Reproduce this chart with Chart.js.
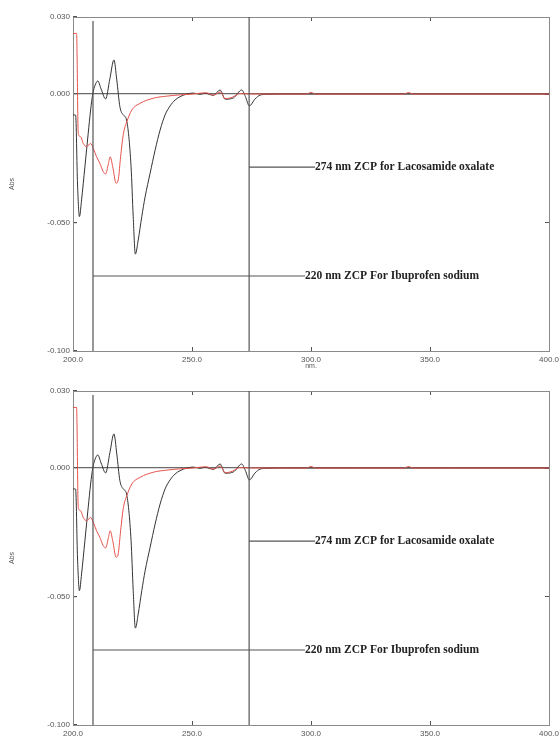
<!DOCTYPE html>
<html>
<head>
<meta charset="utf-8">
<script src="https://cdn.jsdelivr.net/npm/chart.js@4.4.0/dist/chart.umd.min.js"></script>
<style>
  html, body { margin: 0; padding: 0; background: #fff; overflow: hidden; }
  canvas { position: absolute; left: 0; }
  #chart-top { top: 0; }
  #chart-bottom { top: 370px; }
</style>
</head>
<body>
<canvas id="chart-top" width="560" height="370"></canvas>
<canvas id="chart-bottom" width="560" height="370"></canvas>
<script>
// derivative spectra (nm / Abs)
const blackNm  = [200, 201.1, 201.9, 202.7, 203.6, 205, 206.4, 207.4, 208.3, 209.3, 210.4, 211.8, 213.7, 215.5, 217.2, 218.4, 219.7, 221.1, 222.5, 224.4, 225.3, 226.2, 227.4, 228.9, 230.3, 232.4, 234.5, 236.6, 238.7, 240.8, 242.9, 245, 247.8, 250.6, 253.4, 255.5, 259, 261.8, 263.9, 267.4, 270.9, 272.4, 274.1, 276.5, 278.6, 281.4, 290, 320, 360, 400];
const blackAbs = [-0.0081, -0.0082, -0.035, -0.0477, -0.0412, -0.0283, -0.0152, -0.0062, 0, 0.0035, 0.0051, 0.002, -0.0019, 0.006, 0.0133, 0.0055, -0.0049, -0.0081, -0.0101, -0.0283, -0.0477, -0.0623, -0.0568, -0.0477, -0.04, -0.0308, -0.0218, -0.014, -0.0081, -0.0046, -0.0023, -0.001, 0, 0.0004, -0.0001, 0.0003, -0.0005, 0.0016, -0.002, -0.0015, 0.0016, -0.0009, -0.0046, -0.0019, -0.0004, -0.0001, 0, 0, 0, 0];

const redNm  = [200, 201.5, 202.2, 203.2, 204.3, 205.7, 207.4, 208.5, 209.9, 211.3, 212.7, 213.7, 214.9, 215.6, 216.7, 218.1, 219.1, 220, 221.2, 222.6, 224.7, 228.2, 233.8, 239.4, 245, 250, 253, 256, 259, 262, 264, 267, 270, 275, 298, 300, 302, 339, 341, 343, 400];
const redAbs = [0.0236, 0.0236, -0.0153, -0.0166, -0.0192, -0.0205, -0.0192, -0.0211, -0.0244, -0.027, -0.0302, -0.0311, -0.0270, -0.0244, -0.0283, -0.0347, -0.0328, -0.0244, -0.0153, -0.0108, -0.0062, -0.0036, -0.0016, -0.0008, -0.0003, 0, 0.0003, 0.0005, -0.0004, 0.0008, -0.0018, -0.0012, 0.0002, 0, 0, 0.0006, 0, 0, 0.0006, 0, 0];

const xTicks = [200, 250, 300, 350, 400];
const yTicks = [0.03, 0, -0.05, -0.1];

// zero crossing markers
const zcpNm  = [208.4, 274];
const zcpTop = [0.0284, 0.03];
const labelText = ['220 nm ZCP For Ibuprofen sodium', '274 nm ZCP for Lacosamide oxalate'];
const labelAbs  = [-0.0708, -0.0284];
const labelTo   = [297.5, 301.7];

const GRAY = '#8a8a8a';
const MARK = '#555555';

function toPoints(xs, ys) {
    return xs.map((x, i) => ({ x: x, y: ys[i] }));
}

const zcpLabels = {
    id: 'zcpLabels',
    afterDatasetsDraw(chart) {
        const ctx = chart.ctx;
        const xs = chart.scales.x;
        const ys = chart.scales.y;
        ctx.save();
        ctx.font = 'bold 11.5px "Liberation Serif", serif';
        ctx.fillStyle = '#222';
        ctx.textBaseline = 'middle';
        ctx.textAlign = 'left';
        labelText.forEach((t, i) => {
            ctx.fillText(t, xs.getPixelForValue(labelTo[i]), ys.getPixelForValue(labelAbs[i]));
        });
        ctx.restore();
    }
};

function makeChart(id, topPad, xAxisH, showNm) {
    const lineDs = (data) => ({
        data: data, borderColor: MARK, borderWidth: 1.2, pointRadius: 0, tension: 0
    });
    const datasets = [];
    zcpNm.forEach((nm, i) => {
        datasets.push(lineDs(toPoints([nm, nm], [zcpTop[i], -0.1])));
        datasets.push(lineDs(toPoints([zcpNm[i], labelTo[i]], [labelAbs[i], labelAbs[i]])));
    });
    datasets.push({
        data: toPoints(redNm, redAbs), borderColor: '#e5524c', borderWidth: 1,
        pointRadius: 0, cubicInterpolationMode: 'monotone'
    });
    datasets.push({
        data: toPoints(blackNm, blackAbs), borderColor: '#333333', borderWidth: 1,
        pointRadius: 0, cubicInterpolationMode: 'monotone'
    });

    const tickFont = { family: '"Liberation Sans", Arial, sans-serif', size: 8 };
    const setX = (s) => { s.ticks = xTicks.map(v => ({ value: v })); };
    const setY = (s) => { s.ticks = yTicks.map(v => ({ value: v })); };
    // fixed box sizes, no extra room for overhanging tick labels
    const fixH = (h) => (s) => { s.height = h; s.paddingLeft = 0; s.paddingRight = 0; };
    const fixW = (w) => (s) => { s.width = w; s.paddingTop = 0; s.paddingBottom = 0; };

    return new Chart(document.getElementById(id), {
        type: 'line',
        data: { datasets: datasets },
        options: {
            responsive: false,
            animation: false,
            layout: { padding: 0 },
            plugins: { legend: { display: false }, tooltip: { enabled: false } },
            scales: {
                x: {
                    type: 'linear', position: 'bottom', min: 200, max: 400,
                    afterBuildTicks: setX,
                    afterFit: fixH(xAxisH),
                    border: { color: GRAY, width: 1 },
                    grid: { drawOnChartArea: false, tickLength: -4, tickColor: MARK },
                    ticks: {
                        padding: 8, color: '#555', font: tickFont, maxRotation: 0,
                        callback: (v) => Number(v).toFixed(1)
                    },
                    title: {
                        display: showNm, text: 'nm.', color: '#555',
                        font: { family: '"Liberation Sans", Arial, sans-serif', size: 7, lineHeight: 1 },
                        padding: { top: 0, bottom: 0 }
                    }
                },
                x2: {
                    type: 'linear', position: 'top', min: 200, max: 400,
                    afterBuildTicks: setX,
                    afterFit: fixH(topPad),
                    border: { color: GRAY, width: 1 },
                    grid: { drawOnChartArea: false, tickLength: -4, tickColor: MARK },
                    ticks: { display: false }
                },
                y: {
                    type: 'linear', position: 'left', min: -0.1, max: 0.03,
                    afterBuildTicks: setY,
                    afterFit: fixW(73),
                    border: { color: GRAY, width: 1 },
                    grid: {
                        color: (c) => (c.tick && c.tick.value === 0 ? '#6a6a6a' : 'rgba(0,0,0,0)'),
                        lineWidth: 1.2, tickLength: -4, tickColor: MARK
                    },
                    ticks: {
                        padding: 7, color: '#555', font: tickFont,
                        callback: (v) => Number(v).toFixed(3)
                    },
                    title: {
                        display: true, text: 'Abs', color: '#555',
                        font: { family: '"Liberation Sans", Arial, sans-serif', size: 7 },
                        padding: { top: 8, bottom: 0 }
                    }
                },
                y2: {
                    type: 'linear', position: 'right', min: -0.1, max: 0.03,
                    afterBuildTicks: setY,
                    afterFit: fixW(11),
                    border: { color: GRAY, width: 1 },
                    grid: { drawOnChartArea: false, tickLength: -4, tickColor: MARK },
                    ticks: { display: false }
                }
            }
        },
        plugins: [zcpLabels]
    });
}

makeChart('chart-top', 17, 19, true);
makeChart('chart-bottom', 21, 15, false);
</script>
</body>
</html>
